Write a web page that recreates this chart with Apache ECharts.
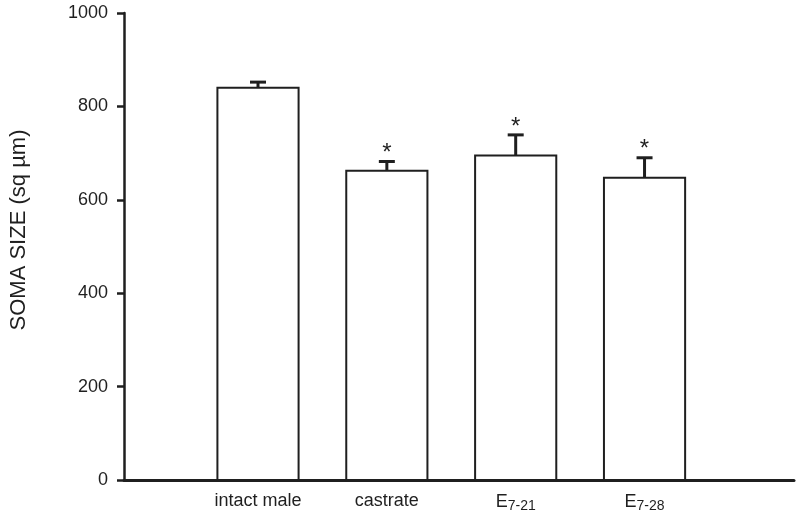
<!DOCTYPE html>
<html>
<head>
<meta charset="utf-8">
<script src="https://cdn.jsdelivr.net/npm/echarts@6/dist/echarts.min.js"></script>
<style>
html,body{margin:0;padding:0;background:#fff;}
#chart{width:800px;height:516px;}
</style>
</head>
<body>
<div id="chart"></div>
<script>
// ---- data ----
const categories = ['intact male', 'castrate', 'E7-21', 'E7-28'];
const categoryLabels = ['intact male', 'castrate', '{n|E}{s|7-21}', '{n|E}{s|7-28}'];
const means = [840, 662, 695, 647];
const errors = [12, 20, 44, 43];
const significant = [false, true, true, true];
const yTickValues = [0, 200, 400, 600, 800, 1000];
const yAxisTitle = 'SOMA SIZE (sq µm)';

const positions = categories.map((c, i) => i + 1);
const barData = means.map((m, i) => [positions[i], m, errors[i], significant[i] ? 1 : 0]);

const INK = '#1f1f1f';
const FONT = '"Liberation Sans", Arial, Helvetica, sans-serif';

const chart = echarts.init(document.getElementById('chart'), null, {renderer: 'canvas'});
chart.setOption({
  animation: false,
  backgroundColor: '#ffffff',
  grid: {left: 124, right: 6, top: 13, bottom: 36, containLabel: false},
  xAxis: {
    type: 'value',
    min: -0.04,
    max: 5.16,
    splitLine: {show: false},
    axisLine: {show: true, onZero: false, lineStyle: {color: INK, width: 3}},
    axisTick: {show: false},
    axisLabel: {
      customValues: positions,
      margin: 12,
      color: INK,
      fontFamily: FONT,
      fontSize: 18,
      formatter: function (v) {
        const i = positions.indexOf(Math.round(v));
        return i >= 0 ? categoryLabels[i] : '';
      },
      rich: {
        n: {fontSize: 18, fontFamily: FONT, color: INK, lineHeight: 20},
        s: {fontSize: 14, fontFamily: FONT, color: INK, lineHeight: 20, padding: [8, 0, 0, 0]}
      }
    }
  },
  yAxis: {
    type: 'value',
    min: 0,
    max: 1000,
    interval: 200,
    splitLine: {show: false},
    axisLine: {show: true, onZero: false, lineStyle: {color: INK, width: 2.5}},
    axisTick: {show: true, inside: false, length: 7, lineStyle: {color: INK, width: 2.5}},
    axisLabel: {
      margin: 16, color: INK, fontFamily: FONT, fontSize: 18,
      formatter: function (v) { return String(v); }
    }
  },
  graphic: [{
    type: 'text',
    x: 19,
    y: 230,
    rotation: Math.PI / 2,
    style: {
      text: yAxisTitle,
      fill: INK,
      font: '22px ' + FONT,
      align: 'center',
      verticalAlign: 'middle'
    }
  }],
  series: [
    {
      type: 'custom',
      clip: false,
      data: barData,
      renderItem: function (params, api) {
        const x = api.value(0);
        const m = api.value(1);
        const top = api.coord([x, m]);
        const base = api.coord([x, 0]);
        const w = api.size([0.63, 0])[0];
        return {
          type: 'rect',
          shape: {x: top[0] - w / 2, y: top[1], width: w, height: base[1] - top[1]},
          style: {fill: '#ffffff', stroke: INK, lineWidth: 2}
        };
      },
      z: 2
    },
    {
      type: 'custom',
      clip: false,
      data: barData,
      renderItem: function (params, api) {
        const x = api.value(0);
        const m = api.value(1);
        const e = api.value(2);
        const sig = api.value(3);
        const pm = api.coord([x, m]);
        const pe = api.coord([x, m + e]);
        const capW = 16;
        const children = [
          {type: 'line', shape: {x1: pm[0], y1: pm[1], x2: pe[0], y2: pe[1]}, style: {stroke: INK, lineWidth: 3}},
          {type: 'line', shape: {x1: pe[0] - capW / 2, y1: pe[1], x2: pe[0] + capW / 2, y2: pe[1]}, style: {stroke: INK, lineWidth: 3}}
        ];
        if (sig) {
          children.push({
            type: 'text',
            x: pe[0],
            y: pe[1] + 4,
            style: {text: '*', fill: INK, font: '24px ' + FONT, align: 'center', verticalAlign: 'bottom'}
          });
        }
        return {type: 'group', children: children};
      },
      z: 3
    }
  ]
});
</script>
</body>
</html>
